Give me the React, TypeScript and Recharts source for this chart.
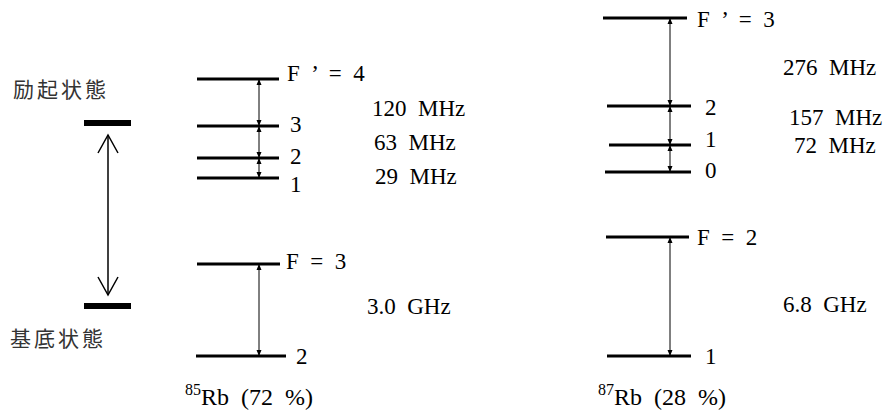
import { ComposedChart, ReferenceLine, Scatter, XAxis, YAxis } from "recharts";

const WIDTH = 886;
const HEIGHT = 412;

// heights are measured up from the bottom edge of the figure, x from the left
const stateNames = ["励起状態", "基底状態"];
const stateY = [289, 106];
const stateNameX = [13, 10];
const stateNameY = [315, 66];
const stateSpan = [84, 131];
const transitionX = 108;
const transitionTop = 277;
const transitionBottom = 117;

const rb85UpperLabels = ["F  ’  =  4", "3", "2", "1"];
const rb85UpperY = [333, 286, 254, 234];
const rb85UpperX1 = [197, 197, 197, 197];
const rb85UpperX2 = [279, 279, 279, 279];
const rb85UpperLabelX = [287, 290, 290, 290];
const rb85UpperLabelY = [331, 280, 248, 220];

const rb85LowerLabels = ["F  =  3", "2"];
const rb85LowerY = [148, 56];
const rb85LowerX1 = [197, 196];
const rb85LowerX2 = [280, 286];
const rb85LowerLabelX = [286, 296];
const rb85LowerLabelY = [143, 48];

const rb87UpperLabels = ["F  ’  =  3", "2", "1", "0"];
const rb87UpperY = [394, 306, 267, 240];
const rb87UpperX1 = [603, 607, 609, 605];
const rb87UpperX2 = [687, 691, 691, 691];
const rb87UpperLabelX = [697, 705, 705, 705];
const rb87UpperLabelY = [385, 297, 265, 234];

const rb87LowerLabels = ["F  =  2", "1"];
const rb87LowerY = [175, 56];
const rb87LowerX1 = [606, 607];
const rb87LowerX2 = [689, 691];
const rb87LowerLabelX = [697, 705];
const rb87LowerLabelY = [167, 48];

const rb85ArrowX = 259;
const rb87ArrowX = 670;

const splitTexts = [
  "120  MHz",
  "63  MHz",
  "29  MHz",
  "3.0  GHz",
  "276  MHz",
  "157  MHz",
  "72  MHz",
  "6.8  GHz",
];
const splitX = [372, 374, 375, 367, 783, 789, 794, 783];
const splitY = [296, 262, 228, 98, 337, 287, 259, 100];

const isotopeMass = ["85", "87"];
const isotopeText = ["Rb  (72  %)", "Rb  (28  %)"];
const isotopeX = [185, 598];
const isotopeY = [7, 7];

const manifolds = [
  { labels: rb85UpperLabels, y: rb85UpperY, x1: rb85UpperX1, x2: rb85UpperX2, lx: rb85UpperLabelX, ly: rb85UpperLabelY, ax: rb85ArrowX },
  { labels: rb85LowerLabels, y: rb85LowerY, x1: rb85LowerX1, x2: rb85LowerX2, lx: rb85LowerLabelX, ly: rb85LowerLabelY, ax: rb85ArrowX },
  { labels: rb87UpperLabels, y: rb87UpperY, x1: rb87UpperX1, x2: rb87UpperX2, lx: rb87UpperLabelX, ly: rb87UpperLabelY, ax: rb87ArrowX },
  { labels: rb87LowerLabels, y: rb87LowerY, x1: rb87LowerX1, x2: rb87LowerX2, lx: rb87LowerLabelX, ly: rb87LowerLabelY, ax: rb87ArrowX },
];

const levels = manifolds.flatMap((m) =>
  m.y.map((y, i) => ({ y, x1: m.x1[i], x2: m.x2[i] }))
);
const levelLabels = manifolds.flatMap((m) =>
  m.labels.map((text, i) => ({ x: m.lx[i], y: m.ly[i], text }))
);
const gaps = manifolds.flatMap((m) =>
  m.y.slice(1).map((lower, i) => ({ x: m.ax, top: m.y[i], bottom: lower }))
);
const upHeads = gaps.map((g) => ({ x: g.x, y: g.top }));
const downHeads = gaps.map((g) => ({ x: g.x, y: g.bottom }));

const splitLabels = splitTexts.map((text, i) => ({ x: splitX[i], y: splitY[i], text }));
const stateLabels = stateNames.map((text, i) => ({ x: stateNameX[i], y: stateNameY[i], text }));
const isotopeLabels = isotopeMass.map((mass, i) => ({
  x: isotopeX[i],
  y: isotopeY[i],
  mass,
  text: isotopeText[i],
}));

const serifStyle = {
  fontFamily: "'Liberation Serif', 'DejaVu Serif', serif",
  whiteSpace: "pre" as const,
};

function serifText(size: number) {
  return (p: any) => (
    <text x={p.cx} y={p.cy} fontSize={size} fill="#000" style={serifStyle}>
      {p.payload.text}
    </text>
  );
}

function cjkText(p: any) {
  return (
    <text
      x={p.cx}
      y={p.cy}
      fontSize={21}
      letterSpacing={3}
      fill="#333"
      style={{ fontFamily: "'Noto Sans CJK JP', sans-serif" }}
    >
      {p.payload.text}
    </text>
  );
}

function isotopeShape(p: any) {
  return (
    <text x={p.cx} y={p.cy} fill="#000" style={serifStyle}>
      <tspan fontSize={16} dy={-10}>
        {p.payload.mass}
      </tspan>
      <tspan fontSize={24} dy={10}>
        {p.payload.text}
      </tspan>
    </text>
  );
}

const smallUp = (p: any) => (
  <path d={`M${p.cx},${p.cy}L${p.cx - 2.5},${p.cy + 6}L${p.cx + 2.5},${p.cy + 6}Z`} fill="#000" />
);
const smallDown = (p: any) => (
  <path d={`M${p.cx},${p.cy}L${p.cx - 2.5},${p.cy - 6}L${p.cx + 2.5},${p.cy - 6}Z`} fill="#000" />
);
const openUp = (p: any) => (
  <path
    d={`M${p.cx - 10},${p.cy + 18}L${p.cx},${p.cy}L${p.cx + 10},${p.cy + 18}`}
    fill="none"
    stroke="#000"
    strokeWidth={1.5}
  />
);
const openDown = (p: any) => (
  <path
    d={`M${p.cx - 10},${p.cy - 18}L${p.cx},${p.cy}L${p.cx + 10},${p.cy - 18}`}
    fill="none"
    stroke="#000"
    strokeWidth={1.5}
  />
);

function App() {
  return (
    <div style={{ position: "absolute", left: 0, top: 0, background: "#fff" }}>
      <ComposedChart width={WIDTH} height={HEIGHT} margin={{ top: 0, right: 0, bottom: 0, left: 0 }}>
        <XAxis type="number" dataKey="x" domain={[0, WIDTH]} allowDataOverflow hide />
        <YAxis type="number" dataKey="y" domain={[0, HEIGHT]} allowDataOverflow hide />

        {stateY.map((y, i) => (
          <ReferenceLine
            key={`s${i}`}
            segment={[
              { x: stateSpan[0], y },
              { x: stateSpan[1], y },
            ]}
            stroke="#000"
            strokeWidth={6}
            ifOverflow="visible"
          />
        ))}
        <ReferenceLine
          segment={[
            { x: transitionX, y: transitionTop },
            { x: transitionX, y: transitionBottom },
          ]}
          stroke="#000"
          strokeWidth={1.5}
          ifOverflow="visible"
        />

        {levels.map((l, i) => (
          <ReferenceLine
            key={`l${i}`}
            segment={[
              { x: l.x1, y: l.y },
              { x: l.x2, y: l.y },
            ]}
            stroke="#000"
            strokeWidth={3}
            ifOverflow="visible"
          />
        ))}
        {gaps.map((g, i) => (
          <ReferenceLine
            key={`g${i}`}
            segment={[
              { x: g.x, y: g.top },
              { x: g.x, y: g.bottom },
            ]}
            stroke="#000"
            strokeWidth={1}
            ifOverflow="visible"
          />
        ))}

        <Scatter data={upHeads} shape={smallUp} isAnimationActive={false} />
        <Scatter data={downHeads} shape={smallDown} isAnimationActive={false} />
        <Scatter data={[{ x: transitionX, y: transitionTop }]} shape={openUp} isAnimationActive={false} />
        <Scatter data={[{ x: transitionX, y: transitionBottom }]} shape={openDown} isAnimationActive={false} />

        <Scatter data={levelLabels} shape={serifText(23)} isAnimationActive={false} />
        <Scatter data={splitLabels} shape={serifText(23)} isAnimationActive={false} />
        <Scatter data={stateLabels} shape={cjkText} isAnimationActive={false} />
        <Scatter data={isotopeLabels} shape={isotopeShape} isAnimationActive={false} />
      </ComposedChart>
    </div>
  );
}

export default App;
